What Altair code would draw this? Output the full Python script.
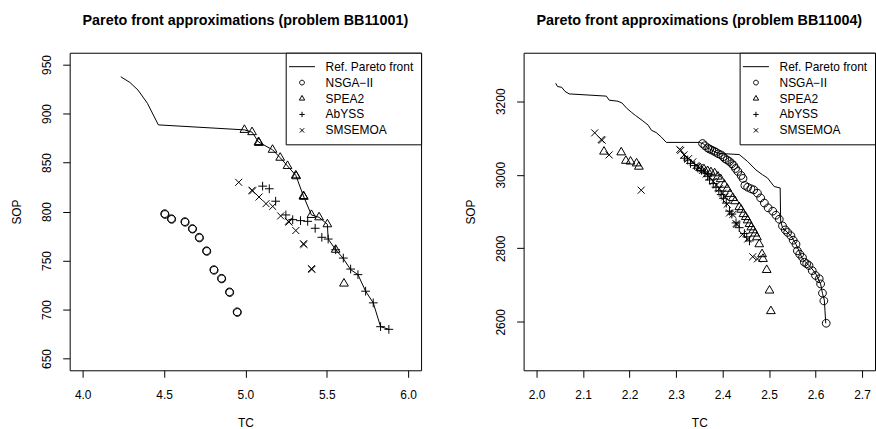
import altair as alt
import pandas as pd

FONT = "Liberation Sans"

# ---------------- data: problem BB11001 ----------------
L_REF_TC = [4.234, 4.290, 4.340, 4.398, 4.465, 4.994, 5.041, 5.081, 5.167, 5.214, 5.259, 5.310,
            5.357, 5.406, 5.453, 5.504, 5.509, 5.555, 5.600, 5.647, 5.692, 5.739, 5.786, 5.831, 5.882]
L_REF_SOP = [937.5, 931.7, 923.9, 910.4, 888.4, 883.3, 881.0, 870.9, 863.0, 854.9, 846.5, 836.9,
             815.8, 796.5, 794.1, 787.0, 771.9, 761.0, 752.5, 740.7, 735.6, 718.7, 706.8, 682.5, 679.8]

L_NSGA_TC = [4.504, 4.506, 4.545, 4.547, 4.628, 4.630, 4.674, 4.676, 4.716, 4.718,
             4.761, 4.763, 4.806, 4.808, 4.853, 4.855, 4.902, 4.904, 4.949, 4.951]
L_NSGA_SOP = [797.8, 797.0, 792.7, 792.0, 789.7, 789.0, 782.6, 782.0, 773.8, 773.0,
              760.0, 759.3, 740.7, 740.0, 731.9, 731.2, 718.0, 717.3, 697.7, 697.0]

L_SPEA_TC = [4.994, 5.041, 5.081, 5.083, 5.167, 5.214, 5.259, 5.310, 5.312, 5.357, 5.359,
             5.406, 5.453, 5.504, 5.555, 5.606]
L_SPEA_SOP = [883.3, 881.0, 870.9, 870.0, 863.0, 854.9, 846.5, 836.9, 836.0, 815.8, 815.0,
              796.5, 794.1, 787.0, 761.0, 726.5]

L_ABYSS_TC = [5.106, 5.147, 5.186, 5.249, 5.291, 5.339, 5.383, 5.429, 5.470, 5.509, 5.555,
              5.602, 5.647, 5.692, 5.739, 5.786, 5.831, 5.882]
L_ABYSS_SOP = [825.9, 823.2, 810.5, 796.5, 791.7, 790.7, 790.0, 782.9, 773.7, 771.9, 761.0,
               752.5, 741.3, 735.6, 718.7, 706.8, 682.5, 679.8]

L_SMS_TC = [4.959, 5.041, 5.044, 5.084, 5.127, 5.168, 5.217, 5.265, 5.268, 5.310, 5.357,
            5.360, 5.406, 5.409]
L_SMS_SOP = [829.8, 821.7, 821.0, 814.8, 808.0, 805.2, 795.5, 790.0, 789.2, 780.6, 767.1,
             766.4, 741.7, 741.0]

# ---------------- data: problem BB11004 ----------------
R_REF_TC = [2.041, 2.045, 2.054, 2.061, 2.070, 2.150, 2.156, 2.175, 2.184, 2.193, 2.204, 2.213,
            2.227, 2.240, 2.247, 2.257, 2.268, 2.279, 2.350, 2.358, 2.368, 2.386, 2.393, 2.436,
            2.454, 2.472, 2.486, 2.497, 2.511, 2.524, 2.525, 2.529, 2.547, 2.558, 2.572, 2.590,
            2.601, 2.611, 2.615, 2.619, 2.622]
R_REF_SOP = [3249, 3240, 3238, 3227, 3220, 3214, 3203, 3200, 3195, 3182, 3170, 3161,
             3148, 3135, 3121, 3115, 3103, 3088, 3088, 3085, 3073, 3061, 3058, 3055,
             3036, 3013, 3000, 2991, 2968, 2964, 2874, 2856, 2834, 2811, 2771, 2748,
             2730, 2703, 2677, 2659, 2596]

R_NSGA_TC = [2.357, 2.362, 2.368, 2.372, 2.377, 2.382, 2.386, 2.391, 2.397, 2.401, 2.405, 2.410,
             2.415, 2.420, 2.424, 2.428, 2.433, 2.440, 2.444, 2.448, 2.454, 2.461, 2.467, 2.475,
             2.482, 2.490, 2.498, 2.508, 2.515, 2.522, 2.529, 2.535, 2.540, 2.547, 2.552, 2.558,
             2.561, 2.566, 2.572, 2.576, 2.581, 2.586, 2.593, 2.600, 2.608, 2.611, 2.615, 2.618,
             2.623]
R_NSGA_SOP = [3085, 3079, 3073, 3070, 3067, 3064, 3061, 3057, 3054, 3049, 3044, 3040,
              3036, 3030, 3025, 3017, 3009, 2998, 2990, 2971, 2966, 2962, 2959, 2950,
              2937, 2923, 2910, 2901, 2890, 2879, 2861, 2850, 2843, 2834, 2822, 2811,
              2793, 2784, 2775, 2762, 2758, 2753, 2739, 2726, 2717, 2703, 2678, 2657,
              2596]

R_SPEA_TC = [2.145, 2.182, 2.192, 2.202, 2.215, 2.220,
             2.352, 2.360, 2.368, 2.375, 2.383, 2.390, 2.396, 2.404, 2.410, 2.416, 2.422, 2.427,
             2.436, 2.440, 2.445, 2.450, 2.454, 2.458, 2.462, 2.466, 2.470, 2.474, 2.479, 2.485,
             2.487, 2.495, 2.501, 2.504]
R_SPEA_SOP = [3063, 3061, 3038, 3036, 3031, 3022,
              3018, 3015, 3010, 3007, 3004, 2995, 2988, 2973, 2962, 2948, 2937, 2928,
              2912, 2905, 2893, 2885, 2876, 2866, 2857, 2849, 2840, 2830, 2811, 2784,
              2771, 2741, 2685, 2629]

R_ABYSS_TC = [2.318, 2.325, 2.331, 2.340, 2.347, 2.355, 2.362, 2.368, 2.372, 2.380, 2.386,
              2.392, 2.397, 2.402, 2.408, 2.415, 2.420, 2.429, 2.436, 2.447, 2.452, 2.458]
R_ABYSS_SOP = [3045, 3040, 3031, 3025, 3018, 3012, 3005, 2996, 2986, 2976, 2966,
               2956, 2946, 2936, 2923, 2901, 2893, 2869, 2856, 2840, 2831, 2820]

R_SMS_TC = [2.125, 2.139, 2.141, 2.156, 2.225, 2.308, 2.310, 2.317, 2.327, 2.336, 2.343,
            2.350, 2.357, 2.365, 2.372, 2.380, 2.387, 2.393, 2.400, 2.405, 2.410, 2.415,
            2.422, 2.429, 2.431, 2.443, 2.454, 2.465, 2.475]
R_SMS_SOP = [3114, 3096, 3094, 3054, 2958, 3069, 3066, 3054, 3044, 3035, 3025,
             3020, 3012, 3002, 2994, 2982, 2972, 2962, 2950, 2940, 2920, 2896,
             2892, 2867, 2865, 2838, 2825, 2777, 2771]

SERIES = ["Ref. Pareto front", "NSGA\u2212II", "SPEA2", "AbYSS", "SMSEMOA"]
SHAPES = [
    "M-2.17,0H2.17",
    "M0.4,0A0.4,0.4 0 1,1 -0.4,0A0.4,0.4 0 1,1 0.4,0Z",
    "M0,-0.52L0.45,0.26L-0.45,0.26Z",
    "M-0.45,0H0.45M0,-0.45V0.45",
    "M-0.36,-0.36L0.36,0.36M-0.36,0.36L0.36,-0.36",
]

W, H = 353, 319


def x_axis(vals):
    return alt.Axis(values=vals, format=".1f", title="TC", tickSize=7, tickColor="black",
                    tickWidth=1, domain=False, grid=False, labelPadding=17,
                    labelBaseline="middle", labelAlign="center", labelFontSize=12,
                    labelFont=FONT, labelColor="black", labelFlush=False, labelOverlap=False,
                    titleFont=FONT, titleFontSize=12, titleFontWeight="normal",
                    titleColor="black", titleX=W / 2, titleY=52, titleBaseline="middle",
                    titleAlign="center")


def y_axis(vals):
    return alt.Axis(values=vals, format="d", title="SOP", tickSize=7, tickColor="black",
                    tickWidth=1, domain=False, grid=False, labelPadding=16, labelAngle=270,
                    labelBaseline="middle", labelAlign="center", labelFontSize=12,
                    labelFont=FONT, labelColor="black", labelFlush=False, labelOverlap=False,
                    titleFont=FONT, titleFontSize=12, titleFontWeight="normal",
                    titleColor="black", titleAngle=270, titleX=-53, titleY=H / 2,
                    titleBaseline="middle", titleAlign="center")


def panel(title, ref_tc, ref_sop, pts, xdom, xticks, ydom, yticks):
    ref = pd.DataFrame({"TC": ref_tc, "SOP": ref_sop, "i": list(range(len(ref_tc)))})
    frames = [pd.DataFrame({"TC": tc, "SOP": sop, "algo": name}) for name, tc, sop in pts]
    pdf = pd.concat(frames, ignore_index=True)
    x = alt.X("TC:Q", scale=alt.Scale(domain=xdom, nice=False, zero=False), axis=x_axis(xticks))
    y = alt.Y("SOP:Q", scale=alt.Scale(domain=ydom, nice=False, zero=False), axis=y_axis(yticks))
    line = alt.Chart(ref).mark_line(color="black", strokeWidth=1).encode(
        x=x, y=y, order=alt.Order("i:Q"))
    points = alt.Chart(pdf).mark_point(filled=False, color="black", strokeWidth=1, size=380,
                                       opacity=1).encode(
        x=x, y=y,
        shape=alt.Shape("algo:N", scale=alt.Scale(domain=SERIES, range=SHAPES),
                        legend=alt.Legend(title=None, orient="top-right", offset=0, padding=7.5,
                                          strokeColor="black", fillColor="white",
                                          cornerRadius=0, symbolSize=144, symbolStrokeWidth=1,
                                          symbolStrokeColor="black",
                                          symbolFillColor="transparent", symbolOpacity=1,
                                          symbolOffset=2.4, labelOffset=17.2, rowPadding=3,
                                          labelFontSize=12, labelFont=FONT, labelColor="black",
                                          labelLimit=0)))
    return alt.layer(line, points).properties(
        width=W, height=H,
        title=alt.TitleParams(text=title, font=FONT, fontSize=14.4, fontWeight="bold",
                              anchor="middle", frame="group", baseline="alphabetic",
                              offset=12.5, color="black"))


left = panel("Pareto front approximations (problem BB11001)", L_REF_TC, L_REF_SOP,
             [(SERIES[1], L_NSGA_TC, L_NSGA_SOP), (SERIES[2], L_SPEA_TC, L_SPEA_SOP),
              (SERIES[3], L_ABYSS_TC, L_ABYSS_SOP), (SERIES[4], L_SMS_TC, L_SMS_SOP)],
             [3.92, 6.08], [4.0, 4.5, 5.0, 5.5, 6.0],
             [638, 962], [650, 700, 750, 800, 850, 900, 950])

right = panel("Pareto front approximations (problem BB11004)", R_REF_TC, R_REF_SOP,
              [(SERIES[1], R_NSGA_TC, R_NSGA_SOP), (SERIES[2], R_SPEA_TC, R_SPEA_SOP),
               (SERIES[3], R_ABYSS_TC, R_ABYSS_SOP), (SERIES[4], R_SMS_TC, R_SMS_SOP)],
              [1.972, 2.728], [2.0, 2.1, 2.2, 2.3, 2.4, 2.5, 2.6, 2.7],
              [2468, 3332], [2600, 2800, 3000, 3200])

chart = alt.hconcat(left, right, spacing=103, bounds="flush").resolve_scale(
    x="independent", y="independent", shape="independent"
).resolve_legend(shape="independent").properties(
    padding={"left": 10, "top": 12, "right": 0, "bottom": 0},
    background="white",
).configure_view(stroke="black", strokeWidth=1)

chart.save("out.html", embed_options={"renderer": "svg", "actions": False})
